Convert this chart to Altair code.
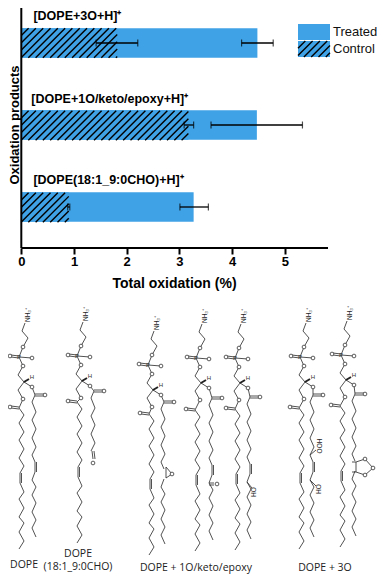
import altair as alt
import pandas as pd

# ---------- bar chart values ----------
products = ["[DOPE+3O+H]⁺", "[DOPE+1O/keto/epoxy+H]⁺", "[DOPE(18:1_9:0CHO)+H]⁺"]
treated = [4.48, 4.47, 3.27]
control = [1.82, 3.17, 0.90]
treated_lo = [4.18, 3.60, 3.01]
treated_hi = [4.78, 5.335, 3.55]
control_lo = [1.42, 3.09, 0.88]
control_hi = [2.21, 3.27, 0.92]
label_x = [0.23, 0.19, 0.23]
label_y = [16, 99, 180]
tick_values = [0, 1, 2, 3, 4, 5]
legend_names = ["Treated", "Control"]

BLUE = "#3fa2e6"
PX = 52.7          # pixels per x unit
W, H = 372, 567    # whole picture less the page margins
ORG_X, ORG_Y = 8, 8
X0 = 21.3          # where x = 0 falls
AX_END = 5.82
AX_Y = 248
BAR_H = 29.5
BAR_TOP = [28.2, 110.7, 192.7]

x_scale = alt.Scale(domain=[(ORG_X - X0) / PX, (ORG_X + W - X0) / PX], nice=False, zero=False)
page_x = alt.Scale(domain=[ORG_X, ORG_X + W], nice=False, zero=False)
page_y = alt.Scale(domain=[ORG_Y, ORG_Y + H], reverse=True, nice=False, zero=False)
band = alt.Scale(domain=products, range=[-6, 240], paddingInner=0.64, paddingOuter=0.32)

bars = pd.DataFrame({"p": products, "t": treated, "c": control})
errs = pd.DataFrame({
    "p": products * 2,
    "lo": treated_lo + control_lo,
    "hi": treated_hi + control_hi,
})
labels = pd.DataFrame({"p": products, "x": label_x, "y": label_y})

X = alt.X("v:Q", scale=x_scale, axis=None)
YB = alt.Y("p:N", scale=band, sort=products, axis=None)
YP = alt.Y("y:Q", scale=page_y, axis=None)
XP = alt.X("x:Q", scale=page_x, axis=None)


def hatch(xr, top, bottom, gid, spacing=7.3):
    """Diagonal stripe segments cut to a rectangle (x along the value scale in px, y down the page)."""
    x0, x1 = xr
    rows = []
    h = bottom - top
    k = x0 - h
    n = 0
    while k < x1:
        sx, sy = k, bottom
        ex, ey = k + h, top
        if sx < x0:
            sy -= (x0 - sx)
            sx = x0
        if ex > x1:
            ey += (ex - x1)
            ex = x1
        if ex > sx:
            rows.append({"g": f"{gid}{n}", "o": 0, "x": sx, "y": sy})
            rows.append({"g": f"{gid}{n}", "o": 1, "x": ex, "y": ey})
        n += 1
        k += spacing
    return rows


hrows = []
for i, c in enumerate(control):
    hrows += hatch((X0, X0 + c * PX), BAR_TOP[i], BAR_TOP[i] + BAR_H, f"b{i}_")
LEG_X = (298, 330)
hrows += hatch(LEG_X, 41, 57, "leg")
hatch_df = pd.DataFrame(hrows)

legend_df = pd.DataFrame({
    "n": legend_names,
    "x": [LEG_X[0]] * 2,
    "x2": [LEG_X[1]] * 2,
    "y": [24, 41],
    "y2": [40, 57],
    "tx": [333] * 2,
    "ty": [32, 49],
})

l_t = alt.Chart(bars).transform_calculate(v="datum.t").mark_bar(color=BLUE).encode(
    x=alt.X("v:Q", scale=x_scale,
            axis=alt.Axis(values=tick_values, format="d", domain=False, grid=False, title="Total oxidation (%)",
                          offset=AX_Y - ORG_Y - H,
                          tickColor="black", tickWidth=2, tickSize=6, labelFontWeight="bold", labelFontSize=13,
                          labelFont="Liberation Sans", labelColor="black", labelPadding=1,
                          titleFont="Liberation Sans", titleFontWeight="bold", titleFontSize=14,
                          titleColor="black", titleX=174 - ORG_X, titlePadding=8)),
    y=YB)
l_c = alt.Chart(bars).transform_calculate(v="datum.c").mark_bar(color=BLUE).encode(x=X, y=YB)
l_h = alt.Chart(hatch_df).mark_line(color="black", strokeWidth=1.4).encode(
    x=XP, y=YP, detail="g:N", order="o:Q")
l_e = alt.Chart(errs).transform_calculate(v="datum.lo").mark_rule(color="black", strokeWidth=1.3).encode(
    x=X, x2="hi:Q", y=YB)
l_cap1 = alt.Chart(errs).transform_calculate(v="datum.lo").mark_tick(color="black", thickness=1.2, size=7).encode(x=X, y=YB)
l_cap2 = alt.Chart(errs).transform_calculate(v="datum.hi").mark_tick(color="black", thickness=1.2, size=7).encode(x=X, y=YB)
l_lab = alt.Chart(labels).transform_calculate(v="datum.x").mark_text(
    align="left", baseline="middle", font="Liberation Sans", fontWeight="bold", fontSize=12.5, color="black").encode(
    x=X, y=YP, text="p:N")
l_axx = alt.Chart(pd.DataFrame({"v": [0], "e": [AX_END]})).mark_rule(color="black", strokeWidth=2).encode(
    x=X, x2="e:Q", y=alt.value(AX_Y - ORG_Y))
l_axy = alt.Chart(pd.DataFrame({"v": [0]})).mark_rule(color="black", strokeWidth=2).encode(
    x=X, y=alt.value(0), y2=alt.value(AX_Y - ORG_Y))
l_leg = alt.Chart(legend_df).mark_rect(color=BLUE).encode(x=XP, x2="x2:Q", y=YP, y2="y2:Q")
l_legt = alt.Chart(legend_df).transform_calculate(x="datum.tx", y="datum.ty").mark_text(
    align="left", baseline="middle", font="Liberation Sans", fontSize=13, color="#111").encode(
    x=XP, y=YP, text="n:N")
l_ytitle = alt.Chart(pd.DataFrame({"t": ["Oxidation products"], "x": [14.5], "y": [125]})).mark_text(
    angle=270, font="Liberation Sans", fontWeight="bold", fontSize=13, color="black").encode(x=XP, y=YP, text="t:N")

# ---------- structure panel (read in picture units) ----------
chiral = [(24, 382), (82, 381), (153, 390), (201, 383), (240, 383), (305, 382), (346, 380)]
sn1_start = [(19, 408), (77, 402), (149, 414), (195, 410), (235, 409), (299, 408), (340, 406)]
sn2_start = [(35, 395), (94, 391), (164, 402), (212, 398), (250, 397), (313, 395), (355, 394)]
sn1_chain = [(0, 0), (5, 7), (0, 15), (5, 24), (0, 32), (5, 41), (0, 50), (5, 58), (1, 65), (1, 75),
             (5, 84), (0, 91), (5, 100), (0, 109), (5, 115), (0, 124), (5, 133), (0, 141)]
sn2_chain = [(0, 0), (-3, 7), (1, 17), (-3, 25), (1, 34), (-3, 43), (1, 52), (-3, 60), (0, 67), (0, 77),
             (-3, 85), (1, 92), (-3, 100), (1, 108), (-3, 117), (1, 125), (-3, 133), (1, 142)]
head_path = [(1, -59), (-2, -51), (4, -44), (-1, -35), (-5, -25), (-1, -16), (-6, -7), (0, 0),
             (-6, 8), (-1, 17)]
head_o = [(-1, -35), (-14, -26), (8, -24), (-1, -16), (8, 5), (-1, 17)]
sn2_has_double = [True, False, False, True, True, True, False]
sn2_len = [18, 8, 18, 18, 18, 18, 18]
extra_segments = [
    [(166, 467), (166, 478)], [(166, 467), (172, 474), (166, 478)],           # epoxide
    [(92, 451), (93, 459)], [(94, 451), (95, 459)],                           # aldehyde
    [(209, 483), (214, 483)], [(209, 485), (214, 485)],                       # keto
    [(247, 482), (252, 488)],                                                 # HO
    [(310, 455), (316, 450)], [(310, 480), (316, 486)],                       # OOH, HO
    [(352, 462), (356, 462), (356, 472), (352, 472)],
    [(356, 462), (365, 459), (373, 468), (365, 475), (356, 472)],             # trioxolane
]
extra_o = [(172, 474), (93, 463), (217, 484), (365, 459), (373, 468), (365, 475)]
text_h = [("DOPE", 24, 565), ("DOPE", 78, 554), ("(18:1_9:0CHO)", 78, 567),
          ("DOPE + 1O/keto/epoxy", 196, 568), ("DOPE + 3O", 325, 568)]
rot_small = [("HO", 254, 492), ("OOH", 320, 446), ("HO", 319, 489)]

seg_rows, o_rows, small_rows, nh_rows, wedge_rows = [], [], [], [], []


def seg(pts, name):
    for i, (a, b) in enumerate(pts):
        seg_rows.append({"g": name, "o": i, "x": a, "y": b})


for m, (cx, cy) in enumerate(chiral):
    s1x, s1y = sn1_start[m]
    s2x, s2y = sn2_start[m]
    seg([(cx + a, cy + b) for a, b in head_path] + [(s1x, s1y)], f"h{m}")
    seg([(cx, cy), (cx + 8, cy + 5), (s2x, s2y)], f"r{m}")
    seg([(cx - 13, cy - 27), (cx - 5, cy - 26)], f"pa{m}")
    seg([(cx - 13, cy - 25), (cx - 5, cy - 24)], f"pb{m}")
    seg([(cx - 5, cy - 25), (cx + 8, cy - 24)], f"pc{m}")
    seg([(s1x + a, s1y + b) for a, b in sn1_chain], f"s1{m}")
    seg([(s1x + sn1_chain[8][0] + 1.5, s1y + sn1_chain[8][1]), (s1x + sn1_chain[9][0] + 1.5, s1y + sn1_chain[9][1])], f"d1{m}")
    seg([(s1x - 8, s1y - 2), (s1x, s1y - 1)], f"c1a{m}")
    seg([(s1x - 8, s1y), (s1x, s1y + 1)], f"c1b{m}")
    if sn2_has_double[m] or sn2_len[m] < 18:
        seg([(s2x + a, s2y + b) for a, b in sn2_chain[:sn2_len[m]]], f"s2{m}")
    else:
        seg([(s2x + a, s2y + b) for a, b in sn2_chain[:9]], f"s2a{m}")
        seg([(s2x + a, s2y + b) for a, b in sn2_chain[9:]], f"s2b{m}")
    if sn2_has_double[m]:
        seg([(s2x + 1.5, s2y + sn2_chain[8][1]), (s2x + 1.5, s2y + sn2_chain[9][1])], f"d2{m}")
    seg([(s2x, s2y - 1), (s2x + 9, s2y - 1)], f"c2a{m}")
    seg([(s2x, s2y + 1), (s2x + 9, s2y + 1)], f"c2b{m}")
    for a, b in head_o:
        o_rows.append({"x": cx + a, "y": cy + b})
    o_rows.append({"x": s1x - 9, "y": s1y - 1})
    o_rows.append({"x": s2x + 10, "y": s2y})
    small_rows.append({"t": "P", "x": cx - 5, "y": cy - 25})
    small_rows.append({"t": "H", "x": cx + 8, "y": cy - 5})
    nh_rows.append({"t": "NH₃⁺", "x": cx + 4, "y": cy - 67})
    wedge_rows += [{"g": f"w{m}", "o": 0, "x": cx, "y": cy}, {"g": f"w{m}", "o": 1, "x": cx + 5, "y": cy - 3}]

for i, s in enumerate(extra_segments):
    seg(s, f"e{i}")
o_rows += [{"x": a, "y": b} for a, b in extra_o]

m_lines = alt.Chart(pd.DataFrame(seg_rows)).mark_line(color="#333", strokeWidth=0.85).encode(x=XP, y=YP, detail="g:N", order="o:Q")
m_wedge = alt.Chart(pd.DataFrame(wedge_rows)).mark_line(color="#222", strokeWidth=2).encode(x=XP, y=YP, detail="g:N", order="o:Q")
m_o = alt.Chart(pd.DataFrame(o_rows)).mark_point(shape="circle", filled=True, fill="white", stroke="#333", strokeWidth=0.8, opacity=1, size=14).encode(x=XP, y=YP)
m_small = alt.Chart(pd.DataFrame(small_rows)).mark_text(font="Liberation Sans", fontSize=6, color="#333").encode(x=XP, y=YP, text="t:N")
m_nh = alt.Chart(pd.DataFrame(nh_rows)).mark_text(font="Liberation Sans", fontSize=6.5, color="#222", angle=270).encode(x=XP, y=YP, text="t:N")
m_rot = alt.Chart(pd.DataFrame(rot_small, columns=["t", "x", "y"])).mark_text(font="Liberation Sans", fontSize=6.5, color="#222", angle=270).encode(x=XP, y=YP, text="t:N")
m_txt = alt.Chart(pd.DataFrame(text_h, columns=["t", "x", "y"])).mark_text(font="Open Sans", fontSize=10.5, color="#222").encode(x=XP, y=YP, text="t:N")

chart = alt.layer(
    l_t, l_c, l_axx, l_axy, l_leg, l_h, l_e, l_cap1, l_cap2, l_lab, l_legt, l_ytitle,
    m_lines, m_wedge, m_o, m_small, m_nh, m_rot, m_txt,
).resolve_scale(x="independent", y="independent").properties(
    width=W, height=H, padding=0, background="white", autosize=alt.AutoSizeParams(type="none")
).configure_view(stroke=None)
chart.save("out.html", embed_options={"renderer": "svg", "actions": False})
